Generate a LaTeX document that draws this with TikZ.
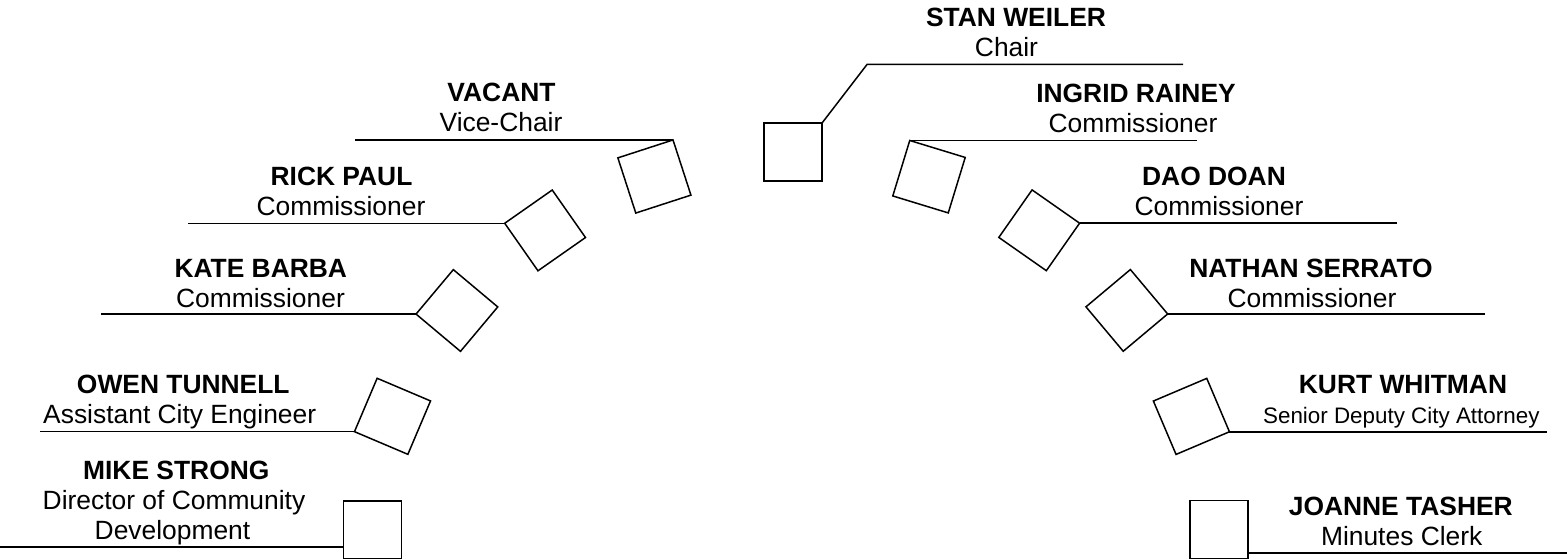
\documentclass[tikz,border=0pt]{standalone}
\usepackage{fontspec}
\setmainfont{Liberation Sans}
\tikzset{
  sq/.style={draw, line width=1.5pt, minimum size=58pt, inner sep=0pt, outer sep=0pt},
  rule/.style={line width=1.5pt},
  nm/.style={font=\bfseries\fontsize{26.4}{30}\selectfont, inner sep=0pt, anchor=base},
  rl/.style={font=\fontsize{26.4}{30}\selectfont, inner sep=0pt, anchor=base},
  rlsmall/.style={font=\fontsize{22.4}{26}\selectfont, inner sep=0pt, anchor=base},
}
\begin{document}
\begin{tikzpicture}[x=1pt,y=-1pt]
\useasboundingbox (0,0) rectangle (1567,559);
% seats
\node[sq] (chair) at (792.9,152.2) {};
\node[sq, rotate=18] (vice) at (654.4,176.5) {};
\node[sq, rotate=-17] (ingrid) at (929,176.7) {};
\node[sq, rotate=35] (rick) at (545.1,230.4) {};
\node[sq, rotate=-35] (dao) at (1039.2,230.3) {};
\node[sq, rotate=50] (kate) at (456.9,310.5) {};
\node[sq, rotate=-50] (nathan) at (1126.8,310.4) {};
\node[sq, rotate=-23] (owen) at (392.5,416.3) {};
\node[sq, rotate=23] (kurt) at (1191.4,416.4) {};
\node[sq] (mike) at (372.5,530) {};
\node[sq] (joanne) at (1218.8,529.5) {};
% line end points
\coordinate (chairK) at (867,64.5);
\coordinate (chairR) at (1183,64.5);
\coordinate (viceL) at (355,0);
\coordinate (ingR) at (1197,0);
\coordinate (rickL) at (188,0);
\coordinate (daoR) at (1397,0);
\coordinate (kateL) at (101,0);
\coordinate (nathanR) at (1485,0);
\coordinate (owenL) at (40,0);
\coordinate (kurtR) at (1547,0);
\coordinate (mikeL) at (0,547);
\coordinate (joR) at (1567,553);
% lines
\draw[rule] (chair.north east) -- (chairK) -- (chairR);
\draw[rule] (vice.north east) -- (vice.north east -| viceL);
\draw[rule] (ingrid.north west) -- (ingrid.north west -| ingR);
\draw[rule] (rick.north west) -- (rick.north west -| rickL);
\draw[rule] (dao.north east) -- (dao.north east -| daoR);
\draw[rule] (kate.north west) -- (kate.north west -| kateL);
\draw[rule] (nathan.north east) -- (nathan.north east -| nathanR);
\draw[rule] (owen.south west) -- (owen.south west -| owenL);
\draw[rule] (kurt.south east) -- (kurt.south east -| kurtR);
\draw[rule] (mikeL) -- (mikeL -| mike.west);
\draw[rule] (joR) -- (joR -| joanne.east);
% labels
\node[nm] (tStan) at (1016,27) {STAN WEILER};
\node[rl] (rStan) at (1006.5,57) {Chair};
\node[nm] (tVice) at (501.5,101.8) {VACANT};
\node[rl] (rVice) at (501,131.8) {Vice-Chair};
\node[nm] (tIng) at (1136,102.5) {INGRID RAINEY};
\node[rl] (rIng) at (1133,132.5) {Commissioner};
\node[nm] (tRick) at (341.5,185.2) {RICK PAUL};
\node[rl] (rRick) at (341,215.2) {Commissioner};
\node[nm] (tDao) at (1214,185.2) {DAO DOAN};
\node[rl] (rDao) at (1219,215.2) {Commissioner};
\node[nm] (tKate) at (260.8,277) {KATE BARBA};
\node[rl] (rKate) at (260.5,307) {Commissioner};
\node[nm] (tNat) at (1311,277) {NATHAN SERRATO};
\node[rl] (rNat) at (1312,307) {Commissioner};
\node[nm] (tOwen) at (183.3,393.5) {OWEN TUNNELL};
\node[rl] (rOwen) at (179.7,423.5) {Assistant City Engineer};
\node[nm] (tKurt) at (1403,393) {KURT WHITMAN};
\node[rlsmall] (rKurt) at (1401.3,423) {Senior Deputy City Attorney};
\node[nm] (tMike) at (176.3,479.5) {MIKE STRONG};
\node[rl] (rMike1) at (174,509.5) {Director of Community};
\node[rl] (rMike2) at (172.5,539.5) {Development};
\node[nm] (tJo) at (1400.8,515.5) {JOANNE TASHER};
\node[rl] (rJo) at (1401.7,545.5) {Minutes Clerk};
\end{tikzpicture}
\end{document}
